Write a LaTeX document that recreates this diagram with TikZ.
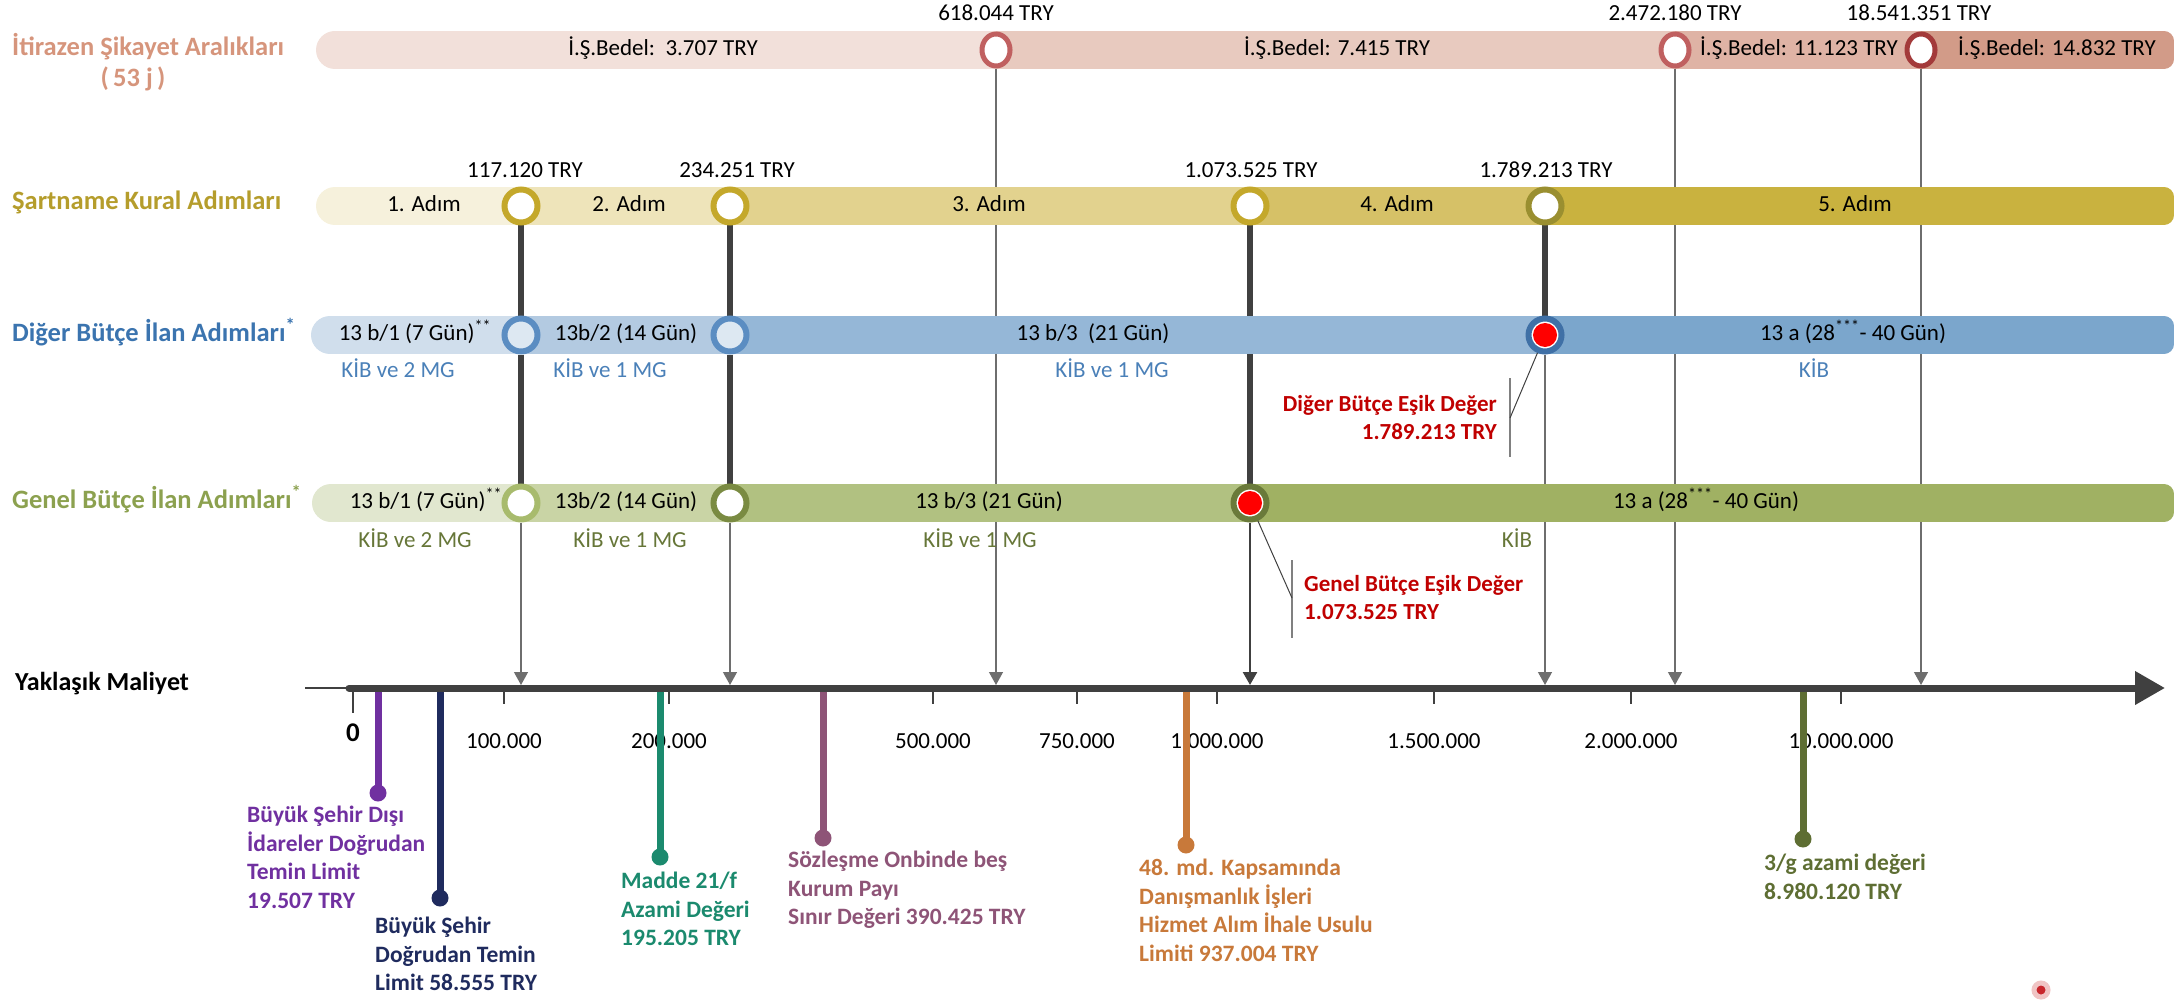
\documentclass[tikz,border=0pt]{standalone}
\usepackage{fontspec}
\setmainfont{Carlito}
\usetikzlibrary{arrows.meta,shapes.geometric}

\definecolor{itbgA}{HTML}{F2E0DA}
\definecolor{itbgB}{HTML}{E8CABF}
\definecolor{itbgC}{HTML}{DFB3A5}
\definecolor{itbgD}{HTML}{D29B88}
\definecolor{itring}{HTML}{C06060}
\definecolor{itdark}{HTML}{A33A3A}
\definecolor{itttl}{HTML}{D6957C}
\definecolor{skbgA}{HTML}{F6F1DC}
\definecolor{skbgB}{HTML}{EEE4BA}
\definecolor{skbgC}{HTML}{E2D28E}
\definecolor{skbgD}{HTML}{D6C167}
\definecolor{skbgE}{HTML}{C9B23F}
\definecolor{skring}{HTML}{C4A82B}
\definecolor{skdark}{HTML}{9A8F30}
\definecolor{skttl}{HTML}{B59D2C}
\definecolor{dbbgA}{HTML}{D0DEEC}
\definecolor{dbbgB}{HTML}{B3CAE1}
\definecolor{dbbgC}{HTML}{95B7D7}
\definecolor{dbbgD}{HTML}{7BA6CC}
\definecolor{dbfill}{HTML}{DDE8F2}
\definecolor{dbring}{HTML}{5B8DC2}
\definecolor{dbdark}{HTML}{3F70A6}
\definecolor{dbttl}{HTML}{3B74AF}
\definecolor{dbsub}{HTML}{4A80B8}
\definecolor{gbbgA}{HTML}{E1E7CF}
\definecolor{gbbgB}{HTML}{C9D4A5}
\definecolor{gbbgC}{HTML}{B1C181}
\definecolor{gbbgD}{HTML}{A0B163}
\definecolor{gbringA}{HTML}{A8BB6D}
\definecolor{gbringB}{HTML}{7A8B42}
\definecolor{gbdark}{HTML}{6A7A3A}
\definecolor{gbttl}{HTML}{8CA14F}
\definecolor{gbsub}{HTML}{667638}
\definecolor{axisc}{HTML}{404040}
\definecolor{dropc}{HTML}{6E6E6E}
\definecolor{esik}{HTML}{C00000}
\definecolor{pinA}{HTML}{7030A0}
\definecolor{pinB}{HTML}{1F2B5E}
\definecolor{pinC}{HTML}{1B8A6E}
\definecolor{pinD}{HTML}{8E5477}
\definecolor{pinE}{HTML}{C8793A}
\definecolor{pinF}{HTML}{5E6E33}
\definecolor{mkred}{HTML}{C8262C}
\definecolor{mkhalo}{HTML}{F0C4C4}

\pgfdeclarelayer{lines}
\pgfdeclarelayer{bars}
\pgfsetlayers{lines,bars,main}

\newcommand{\barclip}[2]{\clip[rounded corners=10pt] (1500,#2-19) -- (2174,#2-19) -- (2174,#2+19) -- (1500,#2+19)
  [rounded corners=19pt] -- (#1,#2+19) -- (#1,#2-19) -- cycle;}

\begin{document}
\begin{tikzpicture}
  [x=1pt,y=-1pt,every node/.style={inner sep=0pt},
   ring/.style={circle,minimum size=33pt,line width=6pt,draw=#1,fill=white},
   oval/.style={ellipse,minimum width=28pt,minimum height=32pt,line width=5pt,draw=#1,fill=white},
   hot/.style={ring=#1,path picture={\fill[red] (path picture bounding box.center) circle (12pt);}},
   txt/.style={font=\fontsize{23}{28}\selectfont,text height=16pt,text depth=5pt},
   ttl/.style={font=\bfseries\fontsize{26.5}{31}\selectfont,text height=18pt,text depth=6pt,anchor=west},
   tick/.style={font=\fontsize{23}{27}\selectfont,text height=16pt,text depth=5pt},
   stem/.style={line width=6pt,axisc},
   drop/.style={line width=1.3pt,dropc,-{Triangle[length=13pt,width=14pt]}},
   pindot/.style={circle,minimum size=17pt},
   pinline/.style={line width=7pt},
   pintxt/.style={font=\bfseries\fontsize{23.5}{28.5}\selectfont,align=left,anchor=north west},
   esiktxt/.style={font=\bfseries\fontsize{23}{28}\selectfont,text=esik},
   brk/.style={line width=1.5pt,gray}]
  \useasboundingbox (0,0) rectangle (2176,1000);

  \node[oval=itring] (it1) at (996,50) {};
  \node[oval=itring] (it2) at (1675,50) {};
  \node[oval=itdark] (it3) at (1921,50) {};
  \node[ring=skring] (sk1) at (521,206) {};
  \node[ring=skring] (sk2) at (730,206) {};
  \node[ring=skring] (sk3) at (1250,206) {};
  \node[ring=skdark] (sk4) at (1545,206) {};
  \node[ring=dbring,fill=dbfill] (db1) at (521,335) {};
  \node[ring=dbring,fill=dbfill] (db2) at (730,335) {};
  \node[hot=dbdark] (db3) at (1545,335) {};
  \node[ring=gbringA] (gb1) at (521,503) {};
  \node[ring=gbringB] (gb2) at (730,503) {};
  \node[hot=gbdark] (gb3) at (1250,503) {};

  \foreach \n/\x in {1/521,2/730,3/996,4/1250,5/1545,6/1675,7/1921}
    \coordinate (ax\n) at (\x,685);

  \begin{pgfonlayer}{lines}
  \foreach \from/\to in {sk1/db1,db1/gb1,sk2/db2,db2/gb2,sk3/gb3,sk4/db3}
    \draw[stem] (\from) -- (\to);
  \foreach \from/\to in {gb1/ax1,gb2/ax2,it1/ax3,db3/ax5,it2/ax6,it3/ax7}
    \draw[drop] (\from) -- (\to);
  \draw[drop,line width=2.5pt,axisc] (gb3) -- (ax4);
  \end{pgfonlayer}

  \begin{pgfonlayer}{bars}
  \begin{scope}
    \barclip{316}{50}
    \foreach \a/\b/\c in {316/996/itbgA,996/1675/itbgB,1675/1921/itbgC,1921/2174/itbgD}
      \fill[\c] (\a,31) rectangle (\b,69);
  \end{scope}
  \begin{scope}
    \barclip{316}{206}
    \foreach \a/\b/\c in {316/521/skbgA,521/730/skbgB,730/1250/skbgC,1250/1545/skbgD,1545/2174/skbgE}
      \fill[\c] (\a,187) rectangle (\b,225);
  \end{scope}
  \begin{scope}
    \barclip{311}{335}
    \foreach \a/\b/\c in {311/521/dbbgA,521/730/dbbgB,730/1545/dbbgC,1545/2174/dbbgD}
      \fill[\c] (\a,316) rectangle (\b,354);
  \end{scope}
  \begin{scope}
    \barclip{312}{503}
    \foreach \a/\b/\c in {312/521/gbbgA,521/730/gbbgB,730/1250/gbbgC,1250/2174/gbbgD}
      \fill[\c] (\a,484) rectangle (\b,522);
  \end{scope}
  \end{pgfonlayer}

  \node[ttl,text=itttl] (ttlit) at (12,50) {İtirazen Şikayet Aralıkları};
  \node[ttl,text=itttl,anchor=center] (ttlitn) at (133,81) {(\,53 j\,)};
  \node[ttl,text=skttl] (ttlsk) at (12,204) {Şartname Kural Adımları};
  \node[ttl,text=dbttl] (ttldb) at (12,335) {Diğer Bütçe İlan Adımları\textsuperscript{*}};
  \node[ttl,text=gbttl] (ttlgb) at (12,502) {Genel Bütçe İlan Adımları\textsuperscript{*}};

  \node[txt] (itv1) at (996,15) {618.044 TRY};
  \node[txt] (itv2) at (1675,15) {2.472.180 TRY};
  \node[txt] (itv3) at (1919,15) {18.541.351 TRY};
  \node[txt] (itb1) at (663,50) {İ.Ş.Bedel:\ \ 3.707 TRY};
  \node[txt] (itb2) at (1337,50) {İ.Ş.Bedel: 7.415 TRY};
  \node[txt] (itb3) at (1799,50) {İ.Ş.Bedel: 11.123 TRY};
  \node[txt] (itb4) at (2057,50) {İ.Ş.Bedel: 14.832 TRY};

  \node[txt] (skv1) at (525,172) {117.120 TRY};
  \node[txt] (skv2) at (737,172) {234.251 TRY};
  \node[txt] (skv3) at (1251,172) {1.073.525 TRY};
  \node[txt] (skv4) at (1546,172) {1.789.213 TRY};
  \foreach \x/\t [count=\i] in {424/1,629/2,989/3,1397/4,1855/5}
    \node[txt] (ska\i) at (\x,206) {\t. Adım};

  \node[txt] (dbs1) at (415,335) {13 b/1 (7 Gün)\textsuperscript{**}};
  \node[txt] (dbs2) at (626,335) {13b/2 (14 Gün)};
  \node[txt] (dbs3) at (1093,335) {13 b/3\ \ (21 Gün)};
  \node[txt] (dbs4) at (1853,335) {13 a (28\textsuperscript{***}- 40 Gün)};
  \node[txt,text=dbsub] (dbk1) at (398,372) {KİB ve 2 MG};
  \node[txt,text=dbsub] (dbk2) at (610,372) {KİB ve 1 MG};
  \node[txt,text=dbsub] (dbk3) at (1112,372) {KİB ve 1 MG};
  \node[txt,text=dbsub] (dbk4) at (1814,372) {KİB};

  \node[txt] (gbs1) at (426,503) {13 b/1 (7 Gün)\textsuperscript{**}};
  \node[txt] (gbs2) at (626,503) {13b/2 (14 Gün)};
  \node[txt] (gbs3) at (989,503) {13 b/3 (21 Gün)};
  \node[txt] (gbs4) at (1706,503) {13 a (28\textsuperscript{***}- 40 Gün)};
  \node[txt,text=gbsub] (gbk1) at (415,542) {KİB ve 2 MG};
  \node[txt,text=gbsub] (gbk2) at (630,542) {KİB ve 1 MG};
  \node[txt,text=gbsub] (gbk3) at (980,542) {KİB ve 1 MG};
  \node[txt,text=gbsub] (gbk4) at (1517,542) {KİB};

  \node[esiktxt,align=right,anchor=east] (dbe) at (1497,418) {Diğer Bütçe Eşik Değer\\1.789.213 TRY};
  \coordinate (dbc) at (1510,418);
  \draw[brk] (1510,378) -- (1510,457);
  \draw[axisc,line width=1pt] (dbc) -- (db3);
  \node[esiktxt,align=left,anchor=west] (gbe) at (1304,598) {Genel Bütçe Eşik Değer\\1.073.525 TRY};
  \coordinate (gbc) at (1292,598);
  \draw[brk] (1292,560) -- (1292,638);
  \draw[axisc,line width=1pt] (gbc) -- (gb3);

  \node[font=\bfseries\fontsize{26}{30}\selectfont] (ym) at (102,684) {Yaklaşık Maliyet};
  \coordinate (a0) at (305,688);
  \coordinate (a1) at (349,688);
  \coordinate (a2) at (2165,688);
  \draw[axisc,line width=2pt] (a0) -- (a1);
  \draw[axisc,line width=7pt,line cap=round,-{Triangle[length=30pt,width=32pt]}] (a1) -- (a2);
  \draw[axisc,line width=1.5pt] (353,692) -- (353,713);
  \node[font=\bfseries\fontsize{27}{32}\selectfont] (tk0) at (353,733) {0};
  \foreach \x/\t [count=\i] in {504/100.000,669/200.000,933/500.000,1077/750.000,1217/1.000.000,1434/1.500.000,1631/2.000.000,1841/10.000.000}
  {
    \draw[axisc,line width=1.5pt] (\x,692) -- (\x,704);
    \node[tick] (tk\i) at (\x,743) {\t};
  }

  \foreach \n/\x/\y/\c in {1/378/793/pinA,2/440/898/pinB,3/660/857/pinC,4/823/838/pinD,5/1186/845/pinE,6/1803/839/pinF}
  {
    \coordinate (pt\n) at (\x,692);
    \node[pindot,fill=\c] (pd\n) at (\x,\y) {};
    \draw[pinline,\c] (pt\n) -- (pd\n.center);
  }
  \node[pintxt,text=pinA] (px1) at (247,806) {Büyük Şehir Dışı\\İdareler Doğrudan\\Temin Limit\\19.507 TRY};
  \node[pintxt,text=pinB] (px2) at (375,917) {Büyük Şehir\\Doğrudan Temin\\Limit 58.555 TRY};
  \node[pintxt,text=pinC] (px3) at (621,872) {Madde 21/f\\Azami Değeri\\195.205 TRY};
  \node[pintxt,text=pinD] (px4) at (788,851) {Sözleşme Onbinde beş\\Kurum Payı\\Sınır Değeri 390.425 TRY};
  \node[pintxt,text=pinE] (px5) at (1139,859) {48. md. Kapsamında\\Danışmanlık İşleri\\Hizmet Alım İhale Usulu\\Limiti 937.004 TRY};
  \node[pintxt,text=pinF] (px6) at (1764,854) {3/g azami değeri\\8.980.120 TRY};

  \node[circle,minimum size=14pt,fill=mkred,draw=mkhalo,line width=5pt] (mk) at (2041,990) {};
\end{tikzpicture}
\end{document}
